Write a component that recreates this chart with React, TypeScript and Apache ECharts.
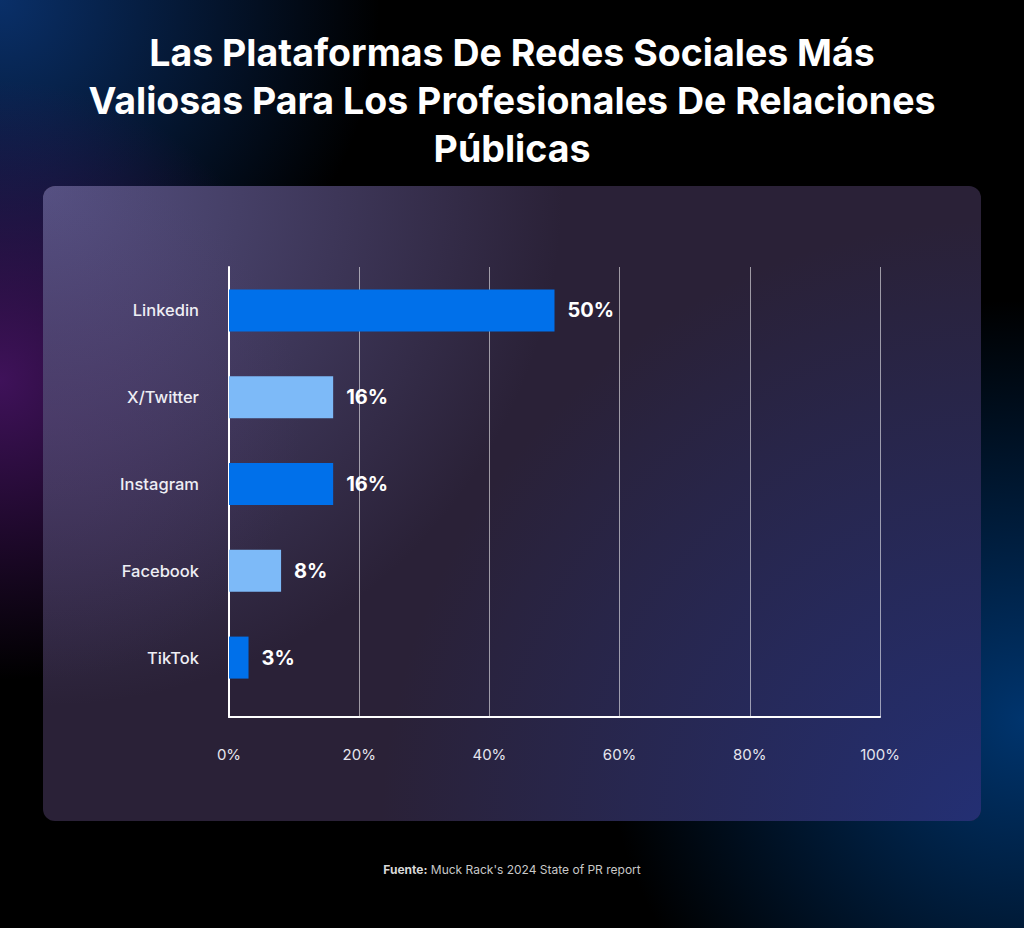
import React, { useEffect, useRef } from "react";
import * as echarts from "echarts";

const titleLines = [
  "Las Plataformas De Redes Sociales Más",
  "Valiosas Para Los Profesionales De Relaciones",
  "Públicas",
];
const categories = ["Linkedin", "X/Twitter", "Instagram", "Facebook", "TikTok"];
const values = [50, 16, 16, 8, 3];
const barColors = ["#0070EA", "#7DBAF8", "#0070EA", "#7DBAF8", "#0070EA"];
const xTicks = [0, 20, 40, 60, 80, 100];
const sourceLabel = "Fuente:";
const sourceText = "Muck Rack's 2024 State of PR report";

const FONT = "Inter, 'Noto Sans', sans-serif";

export default function App() {
  const ref = useRef<HTMLDivElement>(null);
  useEffect(() => {
    if (!ref.current) return;
    const chart = echarts.init(ref.current, undefined, { renderer: "svg" });
    const rg = (x: number, y: number, r: number, c0: string, c1: string) =>
      new echarts.graphic.RadialGradient(x, y, r, [
        { offset: 0, color: c0 },
        { offset: 1, color: c1 },
      ], true);
    chart.setOption({
      animation: false,
      backgroundColor: "#000000",
      textStyle: { fontFamily: FONT },
      graphic: [
        { type: "rect", z: -20, silent: true, shape: { x: 0, y: 0, width: 1024, height: 928 },
          style: { fill: rg(0, 0, 380, "rgba(10,50,110,0.95)", "rgba(10,50,110,0)") } },
        { type: "rect", z: -20, silent: true, shape: { x: 0, y: 0, width: 1024, height: 928 },
          style: { fill: rg(0, 380, 300, "rgba(70,20,100,0.9)", "rgba(70,20,100,0)") } },
        { type: "rect", z: -20, silent: true, shape: { x: 0, y: 0, width: 1024, height: 928 },
          style: { fill: rg(1024, 720, 420, "rgba(0,55,115,0.95)", "rgba(0,55,115,0)") } },
        { type: "rect", z: -10, silent: true, shape: { x: 43, y: 186, width: 938, height: 635, r: 12 },
          style: { fill: "#2a2137" } },
        { type: "rect", z: -10, silent: true, shape: { x: 43, y: 186, width: 938, height: 635, r: 12 },
          style: { fill: rg(43, 186, 520, "rgba(88,84,135,0.95)", "rgba(88,84,135,0)") } },
        { type: "rect", z: -10, silent: true, shape: { x: 43, y: 186, width: 938, height: 635, r: 12 },
          style: { fill: rg(43, 420, 260, "rgba(90,60,120,0.35)", "rgba(90,60,120,0)") } },
        { type: "rect", z: -10, silent: true, shape: { x: 43, y: 186, width: 938, height: 635, r: 12 },
          style: { fill: rg(1000, 840, 620, "rgba(35,48,118,1)", "rgba(35,48,118,0)") } },
        {
          type: "text",
          x: 512,
          y: 28,
          style: {
            text: titleLines.join("\n"),
            align: "center",
            verticalAlign: "top",
            fill: "#ffffff",
            fontSize: 37.5,
            fontWeight: 700,
            lineHeight: 48,
            fontFamily: FONT,
          },
        },
        {
          type: "text",
          x: 512,
          y: 863,
          style: {
            text: `{b|${sourceLabel}} {r|${sourceText}}`,
            align: "center",
            verticalAlign: "top",
            rich: {
              b: { fontFamily: FONT, fontSize: 12, fontWeight: 700, fill: "#d8d8d8" },
              r: { fontFamily: FONT, fontSize: 12, fontWeight: 400, fill: "#c8c8c8" },
            },
          },
        },
      ],
      grid: [
        { left: 229, top: 267, width: 651, height: 450, containLabel: false },
        { left: 229, top: 267, width: 651, height: 434, containLabel: false },
      ],
      xAxis: [
        {
          gridIndex: 0,
          type: "value",
          min: xTicks[0],
          max: xTicks[xTicks.length - 1],
          interval: 20,
          axisLine: { show: true, onZero: false, lineStyle: { color: "#ffffff", width: 2 } },
          axisTick: { show: false },
          splitLine: { show: true, lineStyle: { color: "rgba(255,255,255,0.55)", width: 1 } },
          axisLabel: {
            formatter: "{value}%",
            color: "#e6e6ee",
            fontSize: 15,
            margin: 30,
            fontFamily: FONT,
          },
        },
        { gridIndex: 1, type: "value", min: 0, max: 100, show: false },
      ],
      yAxis: [
        {
          gridIndex: 0,
          type: "value",
          min: 0,
          max: 1,
          axisLine: { show: true, onZero: false, lineStyle: { color: "#ffffff", width: 2 } },
          axisTick: { show: false },
          axisLabel: { show: false },
          splitLine: { show: false },
        },
        {
          gridIndex: 1,
          type: "category",
          inverse: true,
          data: categories,
          axisLine: { show: false },
          axisTick: { show: false },
          axisLabel: {
            color: "#eeeef4",
            fontSize: 16.5,
            fontWeight: 500,
            margin: 30,
            fontFamily: FONT,
          },
        },
      ],
      series: [
        {
          type: "bar",
          xAxisIndex: 1,
          yAxisIndex: 1,
          barWidth: 42,
          data: values.map((v, i) => ({ value: v, itemStyle: { color: barColors[i] } })),
          label: {
            show: true,
            position: "right",
            distance: 13,
            formatter: "{c}%",
            color: "#ffffff",
            fontSize: 20,
            fontWeight: 700,
            fontFamily: FONT,
          },
        },
      ],
    });
    return () => chart.dispose();
  }, []);
  return (
    <div
      ref={ref}
      style={{ position: "absolute", left: 0, top: 0, width: 1024, height: 928 }}
    />
  );
}
